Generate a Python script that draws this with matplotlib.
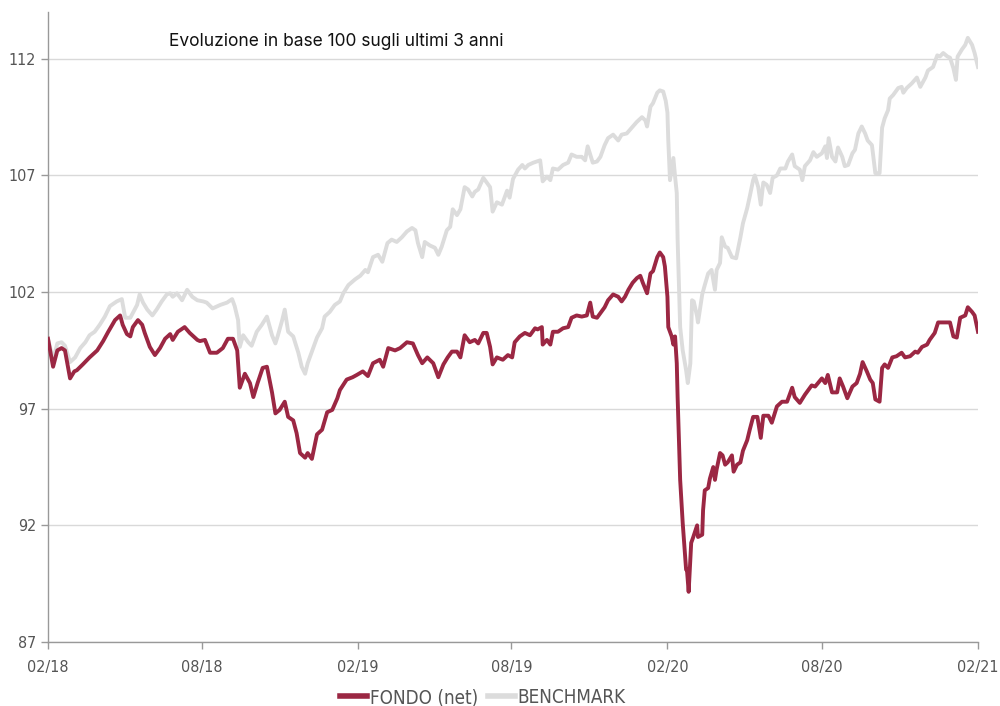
import pandas as pd
import matplotlib
matplotlib.use("Agg")
import matplotlib.pyplot as plt
import matplotlib.dates as mdates

# FONDO (net), base 100
fondo_dates = [
    "2018-02-01", "2018-02-07", "2018-02-12", "2018-02-17", "2018-02-21", "2018-02-27", "2018-03-04", "2018-03-07",
    "2018-03-14", "2018-03-22", "2018-03-31", "2018-04-07", "2018-04-13", "2018-04-21", "2018-04-27", "2018-04-30",
    "2018-05-05", "2018-05-09", "2018-05-12", "2018-05-18", "2018-05-23", "2018-05-26", "2018-06-01", "2018-06-07",
    "2018-06-13", "2018-06-19", "2018-06-25", "2018-06-28", "2018-07-04", "2018-07-12", "2018-07-18", "2018-07-27",
    "2018-07-30", "2018-08-05", "2018-08-11", "2018-08-19", "2018-08-26", "2018-09-01", "2018-09-07", "2018-09-12",
    "2018-09-15", "2018-09-21", "2018-09-27", "2018-10-01", "2018-10-06", "2018-10-12", "2018-10-17", "2018-10-23",
    "2018-10-27", "2018-11-01", "2018-11-07", "2018-11-11", "2018-11-17", "2018-11-21", "2018-11-25", "2018-12-01",
    "2018-12-04", "2018-12-09", "2018-12-15", "2018-12-21", "2018-12-27", "2019-01-02", "2019-01-08", "2019-01-11",
    "2019-01-19", "2019-01-26", "2019-01-31", "2019-02-07", "2019-02-13", "2019-02-19", "2019-02-27", "2019-03-03",
    "2019-03-09", "2019-03-17", "2019-03-23", "2019-03-31", "2019-04-07", "2019-04-13", "2019-04-18", "2019-04-24",
    "2019-05-01", "2019-05-07", "2019-05-13", "2019-05-18", "2019-05-23", "2019-05-29", "2019-06-02", "2019-06-07",
    "2019-06-13", "2019-06-19", "2019-06-23", "2019-06-29", "2019-07-03", "2019-07-07", "2019-07-10", "2019-07-15",
    "2019-07-22", "2019-07-28", "2019-08-02", "2019-08-05", "2019-08-11", "2019-08-17", "2019-08-23", "2019-08-29",
    "2019-09-01", "2019-09-06", "2019-09-07", "2019-09-12", "2019-09-16", "2019-09-19", "2019-09-25", "2019-10-01",
    "2019-10-07", "2019-10-11", "2019-10-17", "2019-10-23", "2019-10-29", "2019-11-02", "2019-11-05", "2019-11-10",
    "2019-11-14", "2019-11-19", "2019-11-23", "2019-11-29", "2019-12-05", "2019-12-09", "2019-12-13", "2019-12-17",
    "2019-12-22", "2019-12-27", "2019-12-31", "2020-01-03", "2020-01-08", "2020-01-12", "2020-01-15", "2020-01-20",
    "2020-01-23", "2020-01-27", "2020-01-29", "2020-02-01", "2020-02-02", "2020-02-06", "2020-02-08", "2020-02-10",
    "2020-02-12", "2020-02-13", "2020-02-16", "2020-02-19", "2020-02-23", "2020-02-24", "2020-02-26", "2020-02-29",
    "2020-03-02", "2020-03-07", "2020-03-08", "2020-03-13", "2020-03-14", "2020-03-16", "2020-03-20", "2020-03-22",
    "2020-03-26", "2020-03-28", "2020-03-30", "2020-04-03", "2020-04-06", "2020-04-09", "2020-04-12", "2020-04-17",
    "2020-04-19", "2020-04-23", "2020-04-27", "2020-04-30", "2020-05-05", "2020-05-08", "2020-05-12", "2020-05-17",
    "2020-05-21", "2020-05-24", "2020-05-30", "2020-06-03", "2020-06-09", "2020-06-15", "2020-06-21", "2020-06-27",
    "2020-06-30", "2020-07-06", "2020-07-12", "2020-07-20", "2020-07-24", "2020-08-01", "2020-08-05", "2020-08-08",
    "2020-08-13", "2020-08-19", "2020-08-22", "2020-08-26", "2020-08-31", "2020-09-06", "2020-09-11", "2020-09-15",
    "2020-09-18", "2020-09-23", "2020-09-27", "2020-09-30", "2020-10-03", "2020-10-08", "2020-10-11", "2020-10-14",
    "2020-10-18", "2020-10-23", "2020-10-28", "2020-11-03", "2020-11-07", "2020-11-13", "2020-11-19", "2020-11-22",
    "2020-11-27", "2020-12-03", "2020-12-06", "2020-12-12", "2020-12-16", "2020-12-22", "2020-12-27", "2020-12-30",
    "2021-01-03", "2021-01-07", "2021-01-11", "2021-01-17", "2021-01-20", "2021-01-25", "2021-01-28", "2021-02-01",
]
fondo_values = [
    100.0, 98.8, 99.5, 99.6, 99.5, 98.3, 98.6, 98.65,
    98.9, 99.2, 99.5, 99.9, 100.3, 100.8, 101.0, 100.6,
    100.2, 100.1, 100.5, 100.8, 100.6, 100.25, 99.65, 99.3,
    99.6, 100.0, 100.2, 99.95, 100.3, 100.5, 100.25, 99.95,
    99.9, 99.95, 99.4, 99.4, 99.6, 100.0, 100.0, 99.5,
    97.9, 98.5, 98.1, 97.5, 98.1, 98.75, 98.8, 97.7,
    96.8, 96.95, 97.3, 96.65, 96.5, 95.95, 95.1, 94.9,
    95.1, 94.85, 95.9, 96.1, 96.85, 96.95, 97.45, 97.8,
    98.25, 98.35, 98.45, 98.6, 98.4, 98.95, 99.1, 98.8,
    99.6, 99.5, 99.6, 99.85, 99.8, 99.3, 98.95, 99.2,
    98.95, 98.35, 98.9, 99.2, 99.45, 99.45, 99.2, 100.15,
    99.85, 99.95, 99.8, 100.25, 100.25, 99.65, 98.9, 99.2,
    99.1, 99.3, 99.2, 99.85, 100.1, 100.25, 100.15, 100.45,
    100.4, 100.5, 99.75, 99.95, 99.75, 100.3, 100.3, 100.45,
    100.5, 100.9, 101.0, 100.95, 101.0, 101.55, 100.95, 100.9,
    101.1, 101.35, 101.65, 101.9, 101.8, 101.6, 101.8, 102.1,
    102.4, 102.6, 102.7, 102.4, 101.95, 102.8, 102.9, 103.5,
    103.7, 103.5, 103.1, 101.8, 100.5, 100.1, 99.75, 100.1,
    98.95, 97.5, 93.95, 92.1, 90.1, 90.1, 89.15, 91.25,
    91.45, 92.0, 91.5, 91.6, 92.65, 93.5, 93.6, 94.0,
    94.5, 93.95, 94.4, 95.1, 95.0, 94.6, 94.7, 95.0,
    94.3, 94.6, 94.7, 95.2, 95.65, 96.1, 96.65, 96.65,
    95.75, 96.7, 96.7, 96.4, 97.1, 97.3, 97.3, 97.9,
    97.5, 97.25, 97.6, 98.0, 97.95, 98.3, 98.1, 98.45,
    97.7, 97.7, 98.3, 97.95, 97.45, 97.95, 98.1, 98.5,
    99.0, 98.6, 98.25, 98.1, 97.4, 97.3, 98.75, 98.9,
    98.75, 99.2, 99.25, 99.4, 99.2, 99.25, 99.45, 99.4,
    99.65, 99.75, 99.95, 100.25, 100.7, 100.7, 100.7, 100.7,
    100.1, 100.05, 100.9, 101.0, 101.35, 101.15, 101.0, 100.3,
]

# BENCHMARK, base 100
bench_dates = [
    "2018-02-01", "2018-02-07", "2018-02-12", "2018-02-17", "2018-02-21", "2018-02-27", "2018-03-05", "2018-03-11",
    "2018-03-17", "2018-03-22", "2018-03-28", "2018-04-03", "2018-04-09", "2018-04-15", "2018-04-23", "2018-04-29",
    "2018-05-03", "2018-05-09", "2018-05-17", "2018-05-20", "2018-05-24", "2018-05-29", "2018-06-04", "2018-06-09",
    "2018-06-15", "2018-06-21", "2018-06-25", "2018-06-28", "2018-07-03", "2018-07-09", "2018-07-15", "2018-07-21",
    "2018-07-27", "2018-08-03", "2018-08-07", "2018-08-14", "2018-08-23", "2018-08-31", "2018-09-06", "2018-09-09",
    "2018-09-13", "2018-09-15", "2018-09-19", "2018-09-25", "2018-09-29", "2018-10-05", "2018-10-11", "2018-10-17",
    "2018-10-23", "2018-10-27", "2018-10-30", "2018-11-04", "2018-11-07", "2018-11-11", "2018-11-17", "2018-11-23",
    "2018-11-27", "2018-12-01", "2018-12-04", "2018-12-09", "2018-12-15", "2018-12-21", "2018-12-24", "2018-12-30",
    "2019-01-05", "2019-01-11", "2019-01-15", "2019-01-21", "2019-01-29", "2019-02-04", "2019-02-10", "2019-02-13",
    "2019-02-19", "2019-02-25", "2019-03-02", "2019-03-08", "2019-03-13", "2019-03-19", "2019-03-25", "2019-03-31",
    "2019-04-06", "2019-04-10", "2019-04-13", "2019-04-18", "2019-04-21", "2019-04-27", "2019-05-03", "2019-05-07",
    "2019-05-11", "2019-05-17", "2019-05-21", "2019-05-24", "2019-05-29", "2019-06-02", "2019-06-07", "2019-06-11",
    "2019-06-16", "2019-06-19", "2019-06-23", "2019-06-29", "2019-07-03", "2019-07-07", "2019-07-10", "2019-07-15",
    "2019-07-21", "2019-07-27", "2019-07-30", "2019-08-03", "2019-08-09", "2019-08-14", "2019-08-17", "2019-08-21",
    "2019-08-27", "2019-08-31", "2019-09-04", "2019-09-07", "2019-09-12", "2019-09-16", "2019-09-19", "2019-09-25",
    "2019-10-01", "2019-10-07", "2019-10-11", "2019-10-17", "2019-10-23", "2019-10-27", "2019-10-30", "2019-11-05",
    "2019-11-10", "2019-11-14", "2019-11-19", "2019-11-23", "2019-11-29", "2019-12-05", "2019-12-09", "2019-12-15",
    "2019-12-21", "2019-12-27", "2020-01-02", "2020-01-06", "2020-01-08", "2020-01-12", "2020-01-15", "2020-01-20",
    "2020-01-23", "2020-01-27", "2020-01-30", "2020-02-01", "2020-02-02", "2020-02-04", "2020-02-08", "2020-02-10",
    "2020-02-12", "2020-02-13", "2020-02-16", "2020-02-19", "2020-02-23", "2020-02-25", "2020-02-28", "2020-03-01",
    "2020-03-03", "2020-03-07", "2020-03-08", "2020-03-13", "2020-03-16", "2020-03-20", "2020-03-24", "2020-03-28",
    "2020-03-30", "2020-04-03", "2020-04-05", "2020-04-09", "2020-04-12", "2020-04-17", "2020-04-22", "2020-04-27",
    "2020-04-30", "2020-05-05", "2020-05-08", "2020-05-12", "2020-05-14", "2020-05-18", "2020-05-21", "2020-05-24",
    "2020-05-28", "2020-06-01", "2020-06-04", "2020-06-09", "2020-06-13", "2020-06-19", "2020-06-22", "2020-06-27",
    "2020-06-30", "2020-07-06", "2020-07-09", "2020-07-12", "2020-07-18", "2020-07-22", "2020-07-26", "2020-08-01",
    "2020-08-05", "2020-08-07", "2020-08-09", "2020-08-13", "2020-08-17", "2020-08-20", "2020-08-25", "2020-08-28",
    "2020-09-01", "2020-09-06", "2020-09-09", "2020-09-13", "2020-09-17", "2020-09-21", "2020-09-24", "2020-09-29",
    "2020-09-30", "2020-10-03", "2020-10-08", "2020-10-11", "2020-10-14", "2020-10-18", "2020-10-20", "2020-10-24",
    "2020-10-30", "2020-11-03", "2020-11-05", "2020-11-09", "2020-11-15", "2020-11-21", "2020-11-25", "2020-12-01",
    "2020-12-04", "2020-12-10", "2020-12-15", "2020-12-18", "2020-12-22", "2020-12-27", "2020-12-30", "2021-01-03",
    "2021-01-06", "2021-01-08", "2021-01-13", "2021-01-17", "2021-01-20", "2021-01-25", "2021-01-28", "2021-02-01",
]
bench_values = [
    100.0, 99.1, 99.8, 99.85, 99.7, 99.0, 99.2, 99.6,
    99.85, 100.15, 100.3, 100.6, 100.95, 101.4, 101.6, 101.7,
    100.9, 100.9, 101.45, 101.9, 101.55, 101.25, 101.0, 101.25,
    101.6, 101.9, 101.95, 101.8, 101.95, 101.65, 102.1, 101.8,
    101.65, 101.6, 101.55, 101.3, 101.45, 101.55, 101.7, 101.4,
    100.8, 99.65, 100.15, 99.85, 99.7, 100.3, 100.6, 100.95,
    100.15, 99.8, 100.15, 100.8, 101.25, 100.3, 100.1, 99.4,
    98.8, 98.5, 98.95, 99.45, 100.05, 100.45, 100.95, 101.15,
    101.45, 101.6, 101.95, 102.3, 102.55, 102.7, 102.95, 102.85,
    103.5, 103.6, 103.3, 104.1, 104.25, 104.15, 104.35, 104.6,
    104.75, 104.65, 104.1, 103.5, 104.15, 104.0, 103.9, 103.6,
    103.95, 104.65, 104.8, 105.55, 105.3, 105.55, 106.5, 106.4,
    106.1, 106.3, 106.4, 106.9, 106.7, 106.5, 105.45, 105.85,
    105.75, 106.35, 106.05, 106.85, 107.25, 107.45, 107.3, 107.45,
    107.55, 107.6, 107.65, 106.75, 106.95, 106.8, 107.3, 107.25,
    107.45, 107.55, 107.9, 107.8, 107.8, 107.65, 108.25, 107.55,
    107.6, 107.8, 108.3, 108.6, 108.75, 108.5, 108.75, 108.8,
    109.05, 109.3, 109.5, 109.36, 109.1, 109.95, 110.1, 110.55,
    110.65, 110.6, 110.2, 109.7, 108.5, 106.8, 107.75, 106.95,
    106.25, 104.25, 100.5, 99.5, 98.65, 98.1, 98.95, 101.65,
    101.6, 100.95, 100.7, 101.9, 102.3, 102.8, 102.95, 102.1,
    102.95, 103.25, 104.35, 103.95, 103.9, 103.5, 103.45, 104.35,
    104.95, 105.6, 106.1, 106.8, 107.0, 106.5, 105.75, 106.7,
    106.6, 106.25, 106.9, 107.0, 107.3, 107.3, 107.6, 107.9,
    107.4, 107.25, 106.8, 107.4, 107.65, 108.0, 107.8, 107.95,
    108.25, 107.75, 108.6, 107.8, 107.6, 108.2, 107.8, 107.4,
    107.45, 107.95, 108.1, 108.8, 109.1, 108.8, 108.5, 108.3,
    108.0, 107.1, 107.1, 109.05, 109.45, 109.8, 110.3, 110.45,
    110.75, 110.8, 110.55, 110.75, 110.95, 111.2, 110.8, 111.2,
    111.5, 111.65, 112.15, 112.1, 112.25, 112.1, 112.05, 111.6,
    111.1, 112.1, 112.4, 112.6, 112.9, 112.6, 112.25, 111.65,
]

y_ticks = [87, 92, 97, 102, 107, 112]
x_ticks = ["2018-02-01", "2018-08-01", "2019-02-01", "2019-08-01", "2020-02-01", "2020-08-01", "2021-02-01"]
title = "Evoluzione in base 100 sugli ultimi 3 anni"

fondo = pd.Series(fondo_values, index=pd.to_datetime(fondo_dates))
bench = pd.Series(bench_values, index=pd.to_datetime(bench_dates))

fig = plt.figure(figsize=(10, 7.06), dpi=100)
ax = fig.add_axes([0.048, 0.0907, 0.930, 0.892])

ax.plot(bench.index, bench.values, color="#dcdcdc", linewidth=2.8, label="BENCHMARK", zorder=2)
ax.plot(fondo.index, fondo.values, color="#9b2743", linewidth=2.8, label="FONDO (net)", zorder=3)

ax.set_xlim(pd.Timestamp("2018-02-01"), pd.Timestamp("2021-02-01"))
ax.set_ylim(87, 114)
ax.set_yticks(y_ticks)
ax.set_xticks(pd.to_datetime(x_ticks))
ax.xaxis.set_major_formatter(mdates.DateFormatter("%m/%y"))

ax.grid(axis="y", color="#d9d9d9", linewidth=1)
ax.set_axisbelow(True)
for s in ["top", "right"]:
    ax.spines[s].set_visible(False)
for s in ["left", "bottom"]:
    ax.spines[s].set_color("#999999")
    ax.spines[s].set_linewidth(1)

ax.tick_params(axis="both", colors="#999999", length=5, width=1, labelcolor="#555555", labelsize=11.5)
ax.tick_params(axis="x", pad=8)
for lbl in ax.get_xticklabels() + ax.get_yticklabels():
    lbl.set_fontfamily("DejaVu Sans")
    lbl.set_fontstretch("condensed")

ax.text(0.13, 0.953, title, transform=ax.transAxes, fontsize=12.5, color="#111111",
        family=["Inter", "DejaVu Sans"], va="center", ha="left")

handles, labels = ax.get_legend_handles_labels()
leg = fig.legend(handles[::-1], labels[::-1], loc="center", bbox_to_anchor=(0.483, 0.012), ncol=2,
                 frameon=False, handlelength=1.45, handletextpad=0.12, columnspacing=0.55,
                 prop={"family": "DejaVu Sans", "stretch": "condensed", "size": 13.5})
for t in leg.get_texts():
    t.set_color("#555555")
for h in leg.get_lines():
    h.set_linewidth(4)

fig.savefig("out.png", dpi=100)
